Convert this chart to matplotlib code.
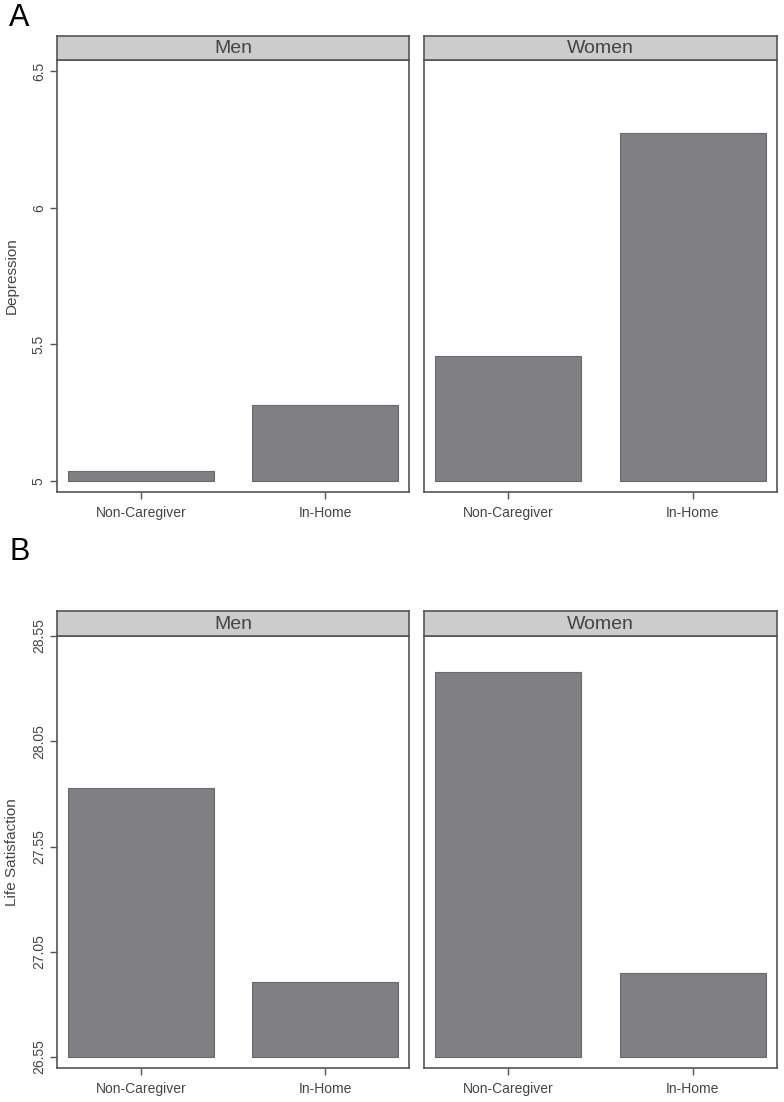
import matplotlib
matplotlib.use("Agg")
import matplotlib.pyplot as plt

plt.rcParams['font.family'] = ['Liberation Sans', 'DejaVu Sans']

groups = ['Men', 'Women']
categories = ['Non-Caregiver', 'In-Home']

dep_base = 5.0
depression = {'Men': [5.037, 5.28], 'Women': [5.457, 6.273]}
dep_ticks = [5, 5.5, 6, 6.5]
dep_labels = ['5', '5.5', '6', '6.5']

life_base = 26.55
life_sat = {'Men': [27.83, 26.907], 'Women': [28.38, 26.95]}
life_ticks = [26.55, 27.05, 27.55, 28.05, 28.55]
life_labels = ['26.55', '27.05', '27.55', '28.05', '28.55']

W, H = 784, 1102
fig = plt.figure(figsize=(W / 100, H / 100), dpi=100)

text_col = '#444444'
frame_col = '#555555'
bar_col = '#808084'
strip_col = '#cccccd'


def px_axes(left, top, right, bottom):
    return fig.add_axes([left / W, 1 - bottom / H, (right - left) / W, (bottom - top) / H])


def draw_row(data, base, ticks, labels, ylim, ylabel, top, bottom, strip_top):
    for i, g in enumerate(groups):
        left, right = [(57, 409), (424, 777)][i]
        ax = px_axes(left, top, right, bottom)
        vals = data[g]
        x = [1, 2]
        ax.bar(x, [v - base for v in vals], bottom=base, width=0.79,
               color=bar_col, edgecolor='#6a6a6e', linewidth=0.8)
        ax.set_xlim(0.543, 2.457)
        ax.set_ylim(*ylim)
        ax.set_xticks(x)
        ax.set_xticklabels(categories, fontsize=10, color=text_col)
        for sp in ax.spines.values():
            sp.set_color(frame_col)
            sp.set_linewidth(1.2)
        ax.tick_params(axis='x', length=5, width=1, color=frame_col, pad=5)
        if i == 0:
            ax.set_yticks(ticks)
            ax.set_yticklabels(labels, rotation=90, va='center', fontsize=10, color=text_col)
            ax.tick_params(axis='y', length=5, width=1, color=frame_col, pad=3)
            ax.set_ylabel(ylabel, fontsize=11, color=text_col)
            ax.yaxis.set_label_coords(-(57 - 19) / (right - left), 0.5)
        else:
            ax.set_yticks([])
        sax = px_axes(left, strip_top, right, top)
        sax.set_facecolor(strip_col)
        sax.set_xticks([])
        sax.set_yticks([])
        for sp in sax.spines.values():
            sp.set_color(frame_col)
            sp.set_linewidth(1.2)
        sax.text(0.5, 0.47, g, ha='center', va='center', fontsize=14, color=text_col,
                 transform=sax.transAxes)


draw_row(depression, dep_base, dep_ticks, dep_labels, (4.96, 6.54), 'Depression', 60, 492, 36)
draw_row(life_sat, life_base, life_ticks, life_labels, (26.498, 28.55), 'Life Satisfaction', 636, 1068, 611)

fig.text(9 / W, 1 - 18 / H, 'A', fontsize=22, va='center', ha='left', color='black')
fig.text(9 / W, 1 - 552 / H, 'B', fontsize=22, va='center', ha='left', color='black')

fig.savefig('out.png', dpi=100)
